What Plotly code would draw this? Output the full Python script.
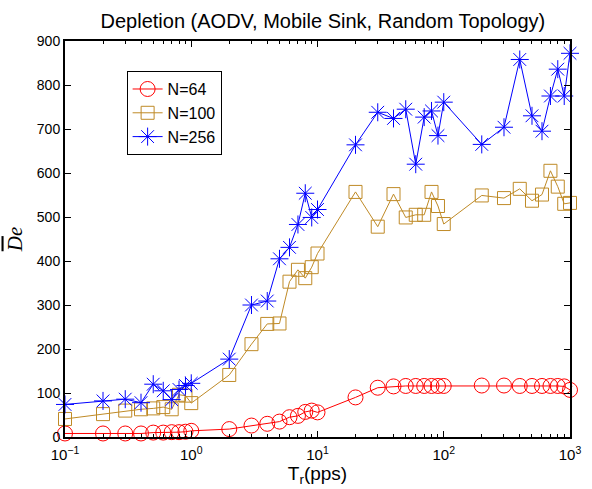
import plotly.graph_objects as go

x_vals = [0.1, 0.2, 0.3, 0.4, 0.5, 0.6, 0.7, 0.8, 0.9,
          1, 2, 3, 4, 5, 6, 7, 8, 9,
          10, 20, 30, 40, 50, 60, 70, 80, 90,
          100, 200, 300, 400, 500, 600, 700, 800, 900,
          1000]

n64 = [8, 8, 8, 8, 10, 10, 11, 11, 12,
       14, 18, 26, 30, 35, 45, 48, 57, 60,
       56, 90, 112, 115, 116, 116, 116, 116, 116,
       116, 117, 117, 116, 116, 116, 116, 116, 115,
       107]

n100 = [41, 52, 60, 63, 65, 68, 63, 96, 94,
        77, 141, 211, 257, 258, 353, 380, 361, 386,
        417, 557, 478, 552, 499, 505, 505, 557, 525,
        484, 549, 543, 564, 537, 551, 605, 569, 530,
        532]

n256 = [74, 82, 86, 78, 120, 105, 85, 108, 117,
        122, 177, 300, 309, 405, 431, 483, 554, 499,
        517, 664, 738, 724, 745, 620, 727, 741, 685,
        761, 665, 704, 858, 730, 695, 775, 836, 775,
        872]

series_names = ["N=64", "N=100", "N=256"]
colors = ["#ff0000", "#bf8a26", "#0000ff"]
symbols = ["circle-open", "square-open", "asterisk-open"]
sizes = [15, 13, 15]

x_tickvals = [0.1, 1, 10, 100, 1000]
x_ticktext = ["10<sup>\u22121</sup>", "10<sup>0</sup>", "10<sup>1</sup>", "10<sup>2</sup>", "10<sup>3</sup>"]
x_minor = [m * d for d in [0.1, 1, 10, 100] for m in range(2, 10)]
y_tickvals = list(range(0, 1000, 100))

fig = go.Figure()
for name, ys, c, s, sz in zip(series_names, [n64, n100, n256], colors, symbols, sizes):
    fig.add_trace(go.Scatter(
        x=x_vals, y=ys, name=name, mode="lines+markers",
        line=dict(color=c, width=1),
        marker=dict(symbol=s, size=sz, color=c, line=dict(color=c, width=1)),
        cliponaxis=False,
    ))

font_sans = "Liberation Sans, Arial, Helvetica, sans-serif"

fig.update_layout(
    width=592, height=489,
    margin=dict(l=65, r=11, t=41, b=52),
    paper_bgcolor="white", plot_bgcolor="white",
    font=dict(family=font_sans, size=14, color="black"),
    title=dict(text="Depletion (AODV, Mobile Sink, Random Topology)",
               x=0.5454, xanchor="center", y=0.958, yanchor="middle",
               font=dict(size=20, family=font_sans)),
    legend=dict(x=0.122, y=0.924, xanchor="left", yanchor="top",
                bgcolor="white", bordercolor="black", borderwidth=1,
                font=dict(size=16, family=font_sans),
                tracegroupgap=0, itemsizing="trace",
                entrywidth=62, entrywidthmode="pixels"),
    showlegend=True,
)

fig.update_xaxes(
    type="log", range=[-1, 3],
    tickvals=x_tickvals, ticktext=x_ticktext,
    ticks="inside", ticklen=6, tickwidth=1, tickcolor="black",
    minor=dict(tickvals=x_minor, ticks="inside", ticklen=3, tickcolor="black", tickwidth=1),
    showline=True, linecolor="black", linewidth=2, mirror="ticks",
    showgrid=False, zeroline=False,
    tickfont=dict(size=15), ticklabelstandoff=3,
    title=dict(text="T<sub>r</sub>(pps)", font=dict(size=19), standoff=2),
)
fig.update_yaxes(
    range=[0, 900], tickvals=y_tickvals,
    ticks="inside", ticklen=6, tickwidth=1, tickcolor="black",
    showline=True, linecolor="black", linewidth=2, mirror="ticks",
    showgrid=False, zeroline=False,
    tickfont=dict(size=14),
    title=dict(text="<i><span style='text-decoration:overline'>D</span>e</i>",
               font=dict(size=21, family="Liberation Serif, Times New Roman, serif"),
               standoff=8),
)

fig.write_html("out.html")
